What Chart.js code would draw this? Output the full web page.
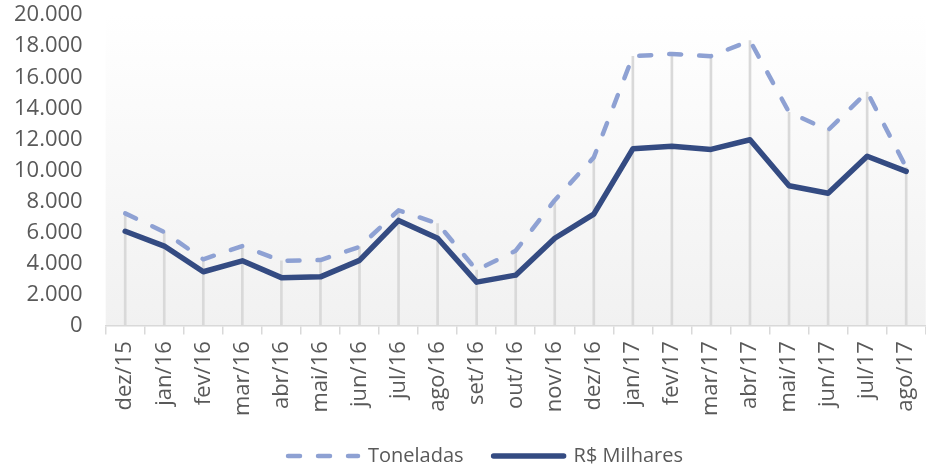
<!DOCTYPE html>
<html>
<head>
<meta charset="utf-8">
<script src="https://cdn.jsdelivr.net/npm/chart.js@4.4.1/dist/chart.umd.min.js"></script>
<style>
  html, body { margin: 0; padding: 0; background: #ffffff; }
  #wrap { width: 926px; height: 467px; }
</style>
</head>
<body>
<div id="wrap"><canvas id="c" width="926" height="467"></canvas></div>
<script>
const categories = ['dez/15','jan/16','fev/16','mar/16','abr/16','mai/16','jun/16','jul/16','ago/16','set/16','out/16','nov/16','dez/16','jan/17','fev/17','mar/17','abr/17','mai/17','jun/17','jul/17','ago/17'];
const toneladas = [7250, 6050, 4300, 5150, 4200, 4250, 5100, 7450, 6600, 3600, 4850, 8100, 10850, 17350, 17500, 17350, 18350, 13750, 12600, 15050, 10200];
const milhares = [6100, 5150, 3500, 4200, 3120, 3170, 4230, 6800, 5650, 2830, 3280, 5650, 7200, 11400, 11560, 11360, 11980, 9030, 8540, 10920, 9950];
const yMin = 0, yMax = 20000, yStep = 2000;

const dropLines = toneladas.map((v, i) => Math.max(v, milhares[i]));

const FONT = "'Open Sans', 'DejaVu Sans', sans-serif";
const TEXT = '#595959';

const bgPlugin = {
  id: 'plotBg',
  afterLayout(chart) {
    const l = chart.legend;
    if (l) { l.left += 16; l.right += 16; }
  },
  beforeDraw(chart) {
    const { ctx, chartArea: a } = chart;
    const g = ctx.createLinearGradient(0, a.top, 0, a.bottom);
    g.addColorStop(0, '#ffffff');
    g.addColorStop(1, '#f1f1f1');
    ctx.save();
    ctx.fillStyle = g;
    ctx.fillRect(a.left, a.top, a.right - a.left, a.bottom - a.top);
    ctx.restore();
  }
};

new Chart(document.getElementById('c'), {
  type: 'line',
  data: {
    labels: categories,
    datasets: [
      {
        label: 'Toneladas',
        data: toneladas,
        borderColor: '#8ea1d3',
        backgroundColor: '#8ea1d3',
        borderWidth: 4.5,
        borderDash: [12, 18],
        borderCapStyle: 'round',
        borderJoinStyle: 'round',
        pointRadius: 0,
        tension: 0,
        order: 1
      },
      {
        label: 'R$ Milhares',
        data: milhares,
        borderColor: '#344b82',
        backgroundColor: '#344b82',
        borderWidth: 5.5,
        borderCapStyle: 'round',
        borderJoinStyle: 'round',
        pointRadius: 0,
        tension: 0,
        order: 0
      },
      {
        type: 'bar',
        label: 'drop',
        data: dropLines,
        backgroundColor: '#d9d9d9',
        barThickness: 2,
        order: 10
      }
    ]
  },
  options: {
    responsive: false,
    animation: false,
    devicePixelRatio: 1,
    layout: { padding: { top: 15, right: 0, left: 13, bottom: -9 } },
    plugins: {
      tooltip: { enabled: false },
      legend: {
        position: 'bottom',
        labels: {
          usePointStyle: true,
          pointStyle: 'line',
          pointStyleWidth: 70,
          boxHeight: 10,
          padding: 30,
          color: TEXT,
          font: { family: FONT, size: 20 },
          generateLabels: (chart) => chart.data.datasets
            .map((ds, i) => ({ ds, i }))
            .filter(o => o.ds.type !== 'bar')
            .map(o => ({
              text: o.ds.label,
              fillStyle: o.ds.borderColor,
              strokeStyle: o.ds.borderColor,
              lineWidth: o.ds.borderWidth,
              lineDash: o.ds.borderDash || [],
              lineCap: 'round',
              pointStyle: 'line',
              fontColor: TEXT,
              hidden: false,
              datasetIndex: o.i
            }))
        }
      }
    },
    scales: {
      x: {
        offset: true,
        grid: {
          display: true,
          offset: true,
          drawOnChartArea: false,
          drawTicks: true,
          tickLength: 15,
          tickBorderDash: [8, 40],
          color: '#d9d9d9',
          lineWidth: 1.5
        },
        border: { display: true, color: '#d9d9d9', width: 1.5 },
        ticks: {
          color: TEXT,
          font: { family: FONT, size: 22, lineHeight: 0.9 },
          minRotation: 90,
          maxRotation: 90,
          padding: 0,
          autoSkip: false
        }
      },
      y: {
        min: yMin,
        max: yMax,
        grid: {
          display: true,
          drawOnChartArea: false,
          drawTicks: true,
          tickLength: 22,
          color: 'rgba(0,0,0,0)'
        },
        border: { display: false },
        ticks: {
          stepSize: yStep,
          autoSkip: false,
          color: TEXT,
          padding: 1,
          font: { family: FONT, size: 22, lineHeight: 1 },
          callback: (v) => String(v).replace(/\B(?=(\d{3})+(?!\d))/g, '.')
        }
      }
    }
  },
  plugins: [bgPlugin]
});
</script>
</body>
</html>
